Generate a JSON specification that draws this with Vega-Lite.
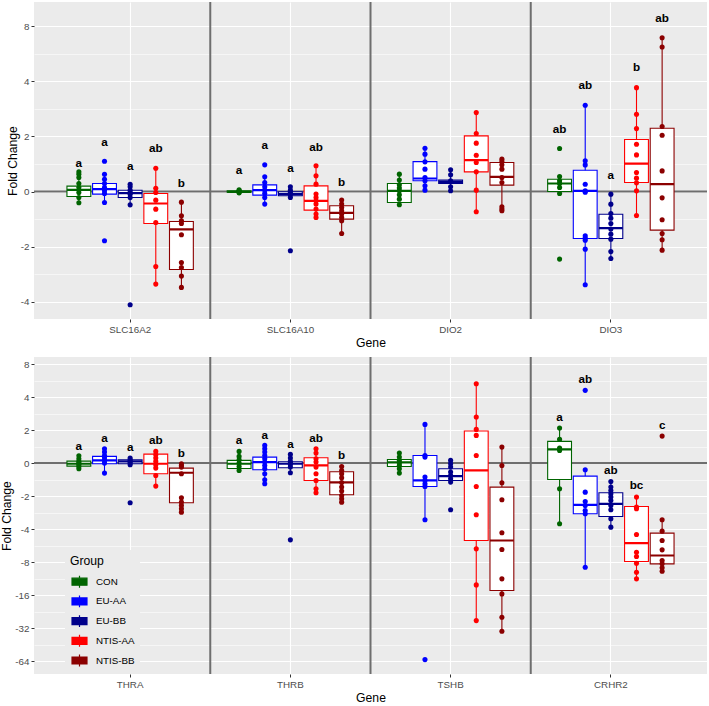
{
  "$schema": "https://vega.github.io/schema/vega-lite/v6.json",
  "padding": {"left": 0, "top": 1, "right": 0, "bottom": 0},
  "background": "white",
  "spacing": 7,
  "config": {
    "font": "Liberation Sans",
    "view": {"fill": "#EBEBEB", "stroke": null},
    "axisX": {
      "domain": false, "tickColor": "#333333", "tickSize": 3, "tickWidth": 1,
      "labelColor": "#4D4D4D", "labelFontSize": 9.8, "labelPadding": 2, "labelAngle": 0,
      "titleFontSize": 12.2, "titleFontWeight": "normal", "titleColor": "black", "titlePadding": 3,
      "grid": true, "gridColor": "white", "gridWidth": 1.1, "bandPosition": 0.5
    },
    "axisY": {
      "domain": false, "tickColor": "#333333", "tickSize": 3, "tickWidth": 1, "tickCount": 100,
      "labelColor": "#4D4D4D", "labelFontSize": 9.8, "labelPadding": 2, "labelOverlap": false,
      "titleFontSize": 12.2, "titleFontWeight": "normal", "titleColor": "black", "titlePadding": 1,
      "grid": true, "gridColor": "white",
      "gridWidth": {"condition": {"test": "datum.value % 1 !== 0", "value": 0.55}, "value": 1.1},
      "tickOpacity": {"condition": {"test": "datum.value % 1 !== 0", "value": 0}, "value": 1},
      "labelExpr": "datum.value % 1 !== 0 ? '' : datum.value === 0 ? '0' : datum.value > 0 ? format(pow(2, datum.value), 'd') : '-' + format(pow(2, -datum.value), 'd')"
    }
  },
  "datasets": {
    "boxes": [
      {"panel": "A", "gene": "SLC16A2", "group": "CON", "lo": -0.205, "q1": -0.091, "med": 0.030, "q3": 0.097, "hi": 0.356},
      {"panel": "A", "gene": "SLC16A2", "group": "EU-AA", "lo": -0.199, "q1": -0.048, "med": 0.042, "q3": 0.145, "hi": 0.314},
      {"panel": "A", "gene": "SLC16A2", "group": "EU-BB", "lo": -0.242, "q1": -0.109, "med": -0.030, "q3": 0.024, "hi": 0.133},
      {"panel": "A", "gene": "SLC16A2", "group": "NTIS-AA", "lo": -1.679, "q1": -0.580, "med": -0.217, "q3": -0.036, "hi": 0.423},
      {"panel": "A", "gene": "SLC16A2", "group": "NTIS-BB", "lo": -1.739, "q1": -1.413, "med": -0.688, "q3": -0.543, "hi": -0.193},
      {"panel": "A", "gene": "SLC16A10", "group": "CON", "lo": -0.024, "q1": -0.014, "med": -0.005, "q3": 0.013, "hi": 0.031},
      {"panel": "A", "gene": "SLC16A10", "group": "EU-AA", "lo": -0.228, "q1": -0.065, "med": 0.025, "q3": 0.121, "hi": 0.266},
      {"panel": "A", "gene": "SLC16A10", "group": "EU-BB", "lo": -0.109, "q1": -0.078, "med": -0.047, "q3": -0.005, "hi": 0.085},
      {"panel": "A", "gene": "SLC16A10", "group": "NTIS-AA", "lo": -0.471, "q1": -0.337, "med": -0.168, "q3": 0.103, "hi": 0.466},
      {"panel": "A", "gene": "SLC16A10", "group": "NTIS-BB", "lo": -0.761, "q1": -0.500, "med": -0.386, "q3": -0.259, "hi": -0.156},
      {"panel": "A", "gene": "DIO2", "group": "CON", "lo": -0.241, "q1": -0.199, "med": 0.013, "q3": 0.145, "hi": 0.315},
      {"panel": "A", "gene": "DIO2", "group": "EU-AA", "lo": 0.025, "q1": 0.194, "med": 0.236, "q3": 0.543, "hi": 0.786},
      {"panel": "A", "gene": "DIO2", "group": "EU-BB", "lo": 0.013, "q1": 0.145, "med": 0.176, "q3": 0.207, "hi": 0.393},
      {"panel": "A", "gene": "DIO2", "group": "NTIS-AA", "lo": -0.368, "q1": 0.357, "med": 0.569, "q3": 1.009, "hi": 1.431},
      {"panel": "A", "gene": "DIO2", "group": "NTIS-BB", "lo": -0.350, "q1": 0.116, "med": 0.266, "q3": 0.525, "hi": 0.587},
      {"panel": "A", "gene": "DIO3", "group": "CON", "lo": -0.036, "q1": 0.0, "med": 0.145, "q3": 0.223, "hi": 0.272},
      {"panel": "A", "gene": "DIO3", "group": "EU-AA", "lo": -1.691, "q1": -0.851, "med": 0.012, "q3": 0.386, "hi": 1.564},
      {"panel": "A", "gene": "DIO3", "group": "EU-BB", "lo": -1.214, "q1": -0.851, "med": -0.664, "q3": -0.411, "hi": -0.048},
      {"panel": "A", "gene": "DIO3", "group": "NTIS-AA", "lo": -0.435, "q1": 0.163, "med": 0.507, "q3": 0.942, "hi": 1.884},
      {"panel": "A", "gene": "DIO3", "group": "NTIS-BB", "lo": -1.063, "q1": -0.700, "med": 0.133, "q3": 1.147, "hi": 2.790},
      {"panel": "B", "gene": "THRA", "group": "CON", "lo": -0.172, "q1": -0.091, "med": -0.020, "q3": 0.061, "hi": 0.222},
      {"panel": "B", "gene": "THRA", "group": "EU-AA", "lo": -0.303, "q1": -0.020, "med": 0.081, "q3": 0.202, "hi": 0.434},
      {"panel": "B", "gene": "THRA", "group": "EU-BB", "lo": -0.051, "q1": -0.020, "med": 0.051, "q3": 0.101, "hi": 0.152},
      {"panel": "B", "gene": "THRA", "group": "NTIS-AA", "lo": -0.697, "q1": -0.323, "med": -0.020, "q3": 0.273, "hi": 0.354},
      {"panel": "B", "gene": "THRA", "group": "NTIS-BB", "lo": -1.485, "q1": -1.202, "med": -0.293, "q3": -0.152, "hi": -0.020},
      {"panel": "B", "gene": "THRB", "group": "CON", "lo": -0.222, "q1": -0.162, "med": -0.020, "q3": 0.081, "hi": 0.354},
      {"panel": "B", "gene": "THRB", "group": "EU-AA", "lo": -0.626, "q1": -0.202, "med": 0.030, "q3": 0.182, "hi": 0.535},
      {"panel": "B", "gene": "THRB", "group": "EU-BB", "lo": -0.293, "q1": -0.141, "med": -0.020, "q3": 0.040, "hi": 0.263},
      {"panel": "B", "gene": "THRB", "group": "NTIS-AA", "lo": -0.899, "q1": -0.525, "med": -0.071, "q3": 0.162, "hi": 0.434},
      {"panel": "B", "gene": "THRB", "group": "NTIS-BB", "lo": -1.182, "q1": -0.960, "med": -0.586, "q3": -0.263, "hi": -0.101},
      {"panel": "B", "gene": "TSHB", "group": "CON", "lo": -0.303, "q1": -0.101, "med": 0.020, "q3": 0.111, "hi": 0.303},
      {"panel": "B", "gene": "TSHB", "group": "EU-AA", "lo": -1.717, "q1": -0.707, "med": -0.525, "q3": 0.232, "hi": 1.172},
      {"panel": "B", "gene": "TSHB", "group": "EU-BB", "lo": -0.576, "q1": -0.525, "med": -0.394, "q3": -0.172, "hi": 0.081},
      {"panel": "B", "gene": "TSHB", "group": "NTIS-AA", "lo": -4.768, "q1": -2.343, "med": -0.222, "q3": 0.970, "hi": 2.404},
      {"panel": "B", "gene": "TSHB", "group": "NTIS-BB", "lo": -5.091, "q1": -3.859, "med": -2.343, "q3": -0.727, "hi": 0.485},
      {"panel": "B", "gene": "CRHR2", "group": "CON", "lo": -1.838, "q1": -0.495, "med": 0.414, "q3": 0.657, "hi": 1.061},
      {"panel": "B", "gene": "CRHR2", "group": "EU-AA", "lo": -3.152, "q1": -1.535, "med": -1.263, "q3": -0.394, "hi": -0.202},
      {"panel": "B", "gene": "CRHR2", "group": "EU-BB", "lo": -1.939, "q1": -1.616, "med": -1.232, "q3": -0.899, "hi": -0.556},
      {"panel": "B", "gene": "CRHR2", "group": "NTIS-AA", "lo": -3.505, "q1": -2.980, "med": -2.424, "q3": -1.313, "hi": -1.030},
      {"panel": "B", "gene": "CRHR2", "group": "NTIS-BB", "lo": -3.273, "q1": -3.051, "med": -2.798, "q3": -2.121, "hi": -1.717}
    ],
    "letters": [
      {"panel": "A", "gene": "SLC16A2", "group": "CON", "letter": "a", "at": 0.525},
      {"panel": "A", "gene": "SLC16A2", "group": "EU-AA", "letter": "a", "at": 0.906},
      {"panel": "A", "gene": "SLC16A2", "group": "EU-BB", "letter": "a", "at": 0.471},
      {"panel": "A", "gene": "SLC16A2", "group": "NTIS-AA", "letter": "ab", "at": 0.785},
      {"panel": "A", "gene": "SLC16A2", "group": "NTIS-BB", "letter": "b", "at": 0.163},
      {"panel": "A", "gene": "SLC16A10", "group": "CON", "letter": "a", "at": 0.388},
      {"panel": "A", "gene": "SLC16A10", "group": "EU-AA", "letter": "a", "at": 0.846},
      {"panel": "A", "gene": "SLC16A10", "group": "EU-BB", "letter": "a", "at": 0.424},
      {"panel": "A", "gene": "SLC16A10", "group": "NTIS-AA", "letter": "ab", "at": 0.815},
      {"panel": "A", "gene": "SLC16A10", "group": "NTIS-BB", "letter": "b", "at": 0.181},
      {"panel": "A", "gene": "DIO3", "group": "CON", "letter": "ab", "at": 1.141},
      {"panel": "A", "gene": "DIO3", "group": "EU-AA", "letter": "ab", "at": 1.926},
      {"panel": "A", "gene": "DIO3", "group": "EU-BB", "letter": "a", "at": 0.302},
      {"panel": "A", "gene": "DIO3", "group": "NTIS-AA", "letter": "b", "at": 2.258},
      {"panel": "A", "gene": "DIO3", "group": "NTIS-BB", "letter": "ab", "at": 3.152},
      {"panel": "B", "gene": "THRA", "group": "CON", "letter": "a", "at": 0.525},
      {"panel": "B", "gene": "THRA", "group": "EU-AA", "letter": "a", "at": 0.758},
      {"panel": "B", "gene": "THRA", "group": "EU-BB", "letter": "a", "at": 0.485},
      {"panel": "B", "gene": "THRA", "group": "NTIS-AA", "letter": "ab", "at": 0.707},
      {"panel": "B", "gene": "THRA", "group": "NTIS-BB", "letter": "b", "at": 0.303},
      {"panel": "B", "gene": "THRB", "group": "CON", "letter": "a", "at": 0.687},
      {"panel": "B", "gene": "THRB", "group": "EU-AA", "letter": "a", "at": 0.838},
      {"panel": "B", "gene": "THRB", "group": "EU-BB", "letter": "a", "at": 0.586},
      {"panel": "B", "gene": "THRB", "group": "NTIS-AA", "letter": "ab", "at": 0.758},
      {"panel": "B", "gene": "THRB", "group": "NTIS-BB", "letter": "b", "at": 0.232},
      {"panel": "B", "gene": "CRHR2", "group": "CON", "letter": "a", "at": 1.394},
      {"panel": "B", "gene": "CRHR2", "group": "EU-AA", "letter": "ab", "at": 2.556},
      {"panel": "B", "gene": "CRHR2", "group": "EU-BB", "letter": "ab", "at": -0.202},
      {"panel": "B", "gene": "CRHR2", "group": "NTIS-AA", "letter": "bc", "at": -0.677},
      {"panel": "B", "gene": "CRHR2", "group": "NTIS-BB", "letter": "c", "at": 1.162}
    ],
    "samples": [
      {"panel": "A", "gene": "SLC16A2", "group": "CON", "log2fc": 0.356},
      {"panel": "A", "gene": "SLC16A2", "group": "CON", "log2fc": 0.314},
      {"panel": "A", "gene": "SLC16A2", "group": "CON", "log2fc": 0.254},
      {"panel": "A", "gene": "SLC16A2", "group": "CON", "log2fc": 0.145},
      {"panel": "A", "gene": "SLC16A2", "group": "CON", "log2fc": 0.072},
      {"panel": "A", "gene": "SLC16A2", "group": "CON", "log2fc": -0.018},
      {"panel": "A", "gene": "SLC16A2", "group": "CON", "log2fc": -0.109},
      {"panel": "A", "gene": "SLC16A2", "group": "CON", "log2fc": -0.205},
      {"panel": "A", "gene": "SLC16A2", "group": "EU-AA", "log2fc": 0.55},
      {"panel": "A", "gene": "SLC16A2", "group": "EU-AA", "log2fc": 0.314},
      {"panel": "A", "gene": "SLC16A2", "group": "EU-AA", "log2fc": 0.223},
      {"panel": "A", "gene": "SLC16A2", "group": "EU-AA", "log2fc": 0.145},
      {"panel": "A", "gene": "SLC16A2", "group": "EU-AA", "log2fc": 0.072},
      {"panel": "A", "gene": "SLC16A2", "group": "EU-AA", "log2fc": 0.012},
      {"panel": "A", "gene": "SLC16A2", "group": "EU-AA", "log2fc": -0.036},
      {"panel": "A", "gene": "SLC16A2", "group": "EU-AA", "log2fc": -0.199},
      {"panel": "A", "gene": "SLC16A2", "group": "EU-AA", "log2fc": -0.894},
      {"panel": "A", "gene": "SLC16A2", "group": "EU-BB", "log2fc": 0.133},
      {"panel": "A", "gene": "SLC16A2", "group": "EU-BB", "log2fc": 0.085},
      {"panel": "A", "gene": "SLC16A2", "group": "EU-BB", "log2fc": 0.024},
      {"panel": "A", "gene": "SLC16A2", "group": "EU-BB", "log2fc": -0.018},
      {"panel": "A", "gene": "SLC16A2", "group": "EU-BB", "log2fc": -0.048},
      {"panel": "A", "gene": "SLC16A2", "group": "EU-BB", "log2fc": -0.109},
      {"panel": "A", "gene": "SLC16A2", "group": "EU-BB", "log2fc": -0.242},
      {"panel": "A", "gene": "SLC16A2", "group": "EU-BB", "log2fc": -2.053},
      {"panel": "A", "gene": "SLC16A2", "group": "NTIS-AA", "log2fc": 0.423},
      {"panel": "A", "gene": "SLC16A2", "group": "NTIS-AA", "log2fc": 0.06},
      {"panel": "A", "gene": "SLC16A2", "group": "NTIS-AA", "log2fc": -0.018},
      {"panel": "A", "gene": "SLC16A2", "group": "NTIS-AA", "log2fc": -0.157},
      {"panel": "A", "gene": "SLC16A2", "group": "NTIS-AA", "log2fc": -0.32},
      {"panel": "A", "gene": "SLC16A2", "group": "NTIS-AA", "log2fc": -0.562},
      {"panel": "A", "gene": "SLC16A2", "group": "NTIS-AA", "log2fc": -1.359},
      {"panel": "A", "gene": "SLC16A2", "group": "NTIS-AA", "log2fc": -1.679},
      {"panel": "A", "gene": "SLC16A2", "group": "NTIS-BB", "log2fc": -0.193},
      {"panel": "A", "gene": "SLC16A2", "group": "NTIS-BB", "log2fc": -0.441},
      {"panel": "A", "gene": "SLC16A2", "group": "NTIS-BB", "log2fc": -0.531},
      {"panel": "A", "gene": "SLC16A2", "group": "NTIS-BB", "log2fc": -0.58},
      {"panel": "A", "gene": "SLC16A2", "group": "NTIS-BB", "log2fc": -0.785},
      {"panel": "A", "gene": "SLC16A2", "group": "NTIS-BB", "log2fc": -1.286},
      {"panel": "A", "gene": "SLC16A2", "group": "NTIS-BB", "log2fc": -1.377},
      {"panel": "A", "gene": "SLC16A2", "group": "NTIS-BB", "log2fc": -1.534},
      {"panel": "A", "gene": "SLC16A2", "group": "NTIS-BB", "log2fc": -1.739},
      {"panel": "A", "gene": "SLC16A10", "group": "CON", "log2fc": 0.031},
      {"panel": "A", "gene": "SLC16A10", "group": "CON", "log2fc": 0.013},
      {"panel": "A", "gene": "SLC16A10", "group": "CON", "log2fc": 0.004},
      {"panel": "A", "gene": "SLC16A10", "group": "CON", "log2fc": -0.005},
      {"panel": "A", "gene": "SLC16A10", "group": "CON", "log2fc": -0.014},
      {"panel": "A", "gene": "SLC16A10", "group": "CON", "log2fc": -0.024},
      {"panel": "A", "gene": "SLC16A10", "group": "EU-AA", "log2fc": 0.484},
      {"panel": "A", "gene": "SLC16A10", "group": "EU-AA", "log2fc": 0.266},
      {"panel": "A", "gene": "SLC16A10", "group": "EU-AA", "log2fc": 0.163},
      {"panel": "A", "gene": "SLC16A10", "group": "EU-AA", "log2fc": 0.085},
      {"panel": "A", "gene": "SLC16A10", "group": "EU-AA", "log2fc": 0.025},
      {"panel": "A", "gene": "SLC16A10", "group": "EU-AA", "log2fc": -0.036},
      {"panel": "A", "gene": "SLC16A10", "group": "EU-AA", "log2fc": -0.109},
      {"panel": "A", "gene": "SLC16A10", "group": "EU-AA", "log2fc": -0.228},
      {"panel": "A", "gene": "SLC16A10", "group": "EU-BB", "log2fc": 0.085},
      {"panel": "A", "gene": "SLC16A10", "group": "EU-BB", "log2fc": 0.025},
      {"panel": "A", "gene": "SLC16A10", "group": "EU-BB", "log2fc": -0.018},
      {"panel": "A", "gene": "SLC16A10", "group": "EU-BB", "log2fc": -0.06},
      {"panel": "A", "gene": "SLC16A10", "group": "EU-BB", "log2fc": -0.109},
      {"panel": "A", "gene": "SLC16A10", "group": "EU-BB", "log2fc": -1.074},
      {"panel": "A", "gene": "SLC16A10", "group": "NTIS-AA", "log2fc": 0.466},
      {"panel": "A", "gene": "SLC16A10", "group": "NTIS-AA", "log2fc": 0.284},
      {"panel": "A", "gene": "SLC16A10", "group": "NTIS-AA", "log2fc": 0.134},
      {"panel": "A", "gene": "SLC16A10", "group": "NTIS-AA", "log2fc": -0.047},
      {"panel": "A", "gene": "SLC16A10", "group": "NTIS-AA", "log2fc": -0.109},
      {"panel": "A", "gene": "SLC16A10", "group": "NTIS-AA", "log2fc": -0.168},
      {"panel": "A", "gene": "SLC16A10", "group": "NTIS-AA", "log2fc": -0.228},
      {"panel": "A", "gene": "SLC16A10", "group": "NTIS-AA", "log2fc": -0.319},
      {"panel": "A", "gene": "SLC16A10", "group": "NTIS-AA", "log2fc": -0.409},
      {"panel": "A", "gene": "SLC16A10", "group": "NTIS-AA", "log2fc": -0.471},
      {"panel": "A", "gene": "SLC16A10", "group": "NTIS-BB", "log2fc": -0.156},
      {"panel": "A", "gene": "SLC16A10", "group": "NTIS-BB", "log2fc": -0.228},
      {"panel": "A", "gene": "SLC16A10", "group": "NTIS-BB", "log2fc": -0.29},
      {"panel": "A", "gene": "SLC16A10", "group": "NTIS-BB", "log2fc": -0.35},
      {"panel": "A", "gene": "SLC16A10", "group": "NTIS-BB", "log2fc": -0.409},
      {"panel": "A", "gene": "SLC16A10", "group": "NTIS-BB", "log2fc": -0.471},
      {"panel": "A", "gene": "SLC16A10", "group": "NTIS-BB", "log2fc": -0.531},
      {"panel": "A", "gene": "SLC16A10", "group": "NTIS-BB", "log2fc": -0.761},
      {"panel": "A", "gene": "DIO2", "group": "CON", "log2fc": 0.315},
      {"panel": "A", "gene": "DIO2", "group": "CON", "log2fc": 0.207},
      {"panel": "A", "gene": "DIO2", "group": "CON", "log2fc": 0.121},
      {"panel": "A", "gene": "DIO2", "group": "CON", "log2fc": 0.062},
      {"panel": "A", "gene": "DIO2", "group": "CON", "log2fc": 0.013},
      {"panel": "A", "gene": "DIO2", "group": "CON", "log2fc": -0.06},
      {"panel": "A", "gene": "DIO2", "group": "CON", "log2fc": -0.138},
      {"panel": "A", "gene": "DIO2", "group": "CON", "log2fc": -0.241},
      {"panel": "A", "gene": "DIO2", "group": "EU-AA", "log2fc": 0.786},
      {"panel": "A", "gene": "DIO2", "group": "EU-AA", "log2fc": 0.678},
      {"panel": "A", "gene": "DIO2", "group": "EU-AA", "log2fc": 0.538},
      {"panel": "A", "gene": "DIO2", "group": "EU-AA", "log2fc": 0.406},
      {"panel": "A", "gene": "DIO2", "group": "EU-AA", "log2fc": 0.254},
      {"panel": "A", "gene": "DIO2", "group": "EU-AA", "log2fc": 0.194},
      {"panel": "A", "gene": "DIO2", "group": "EU-AA", "log2fc": 0.103},
      {"panel": "A", "gene": "DIO2", "group": "EU-AA", "log2fc": 0.025},
      {"panel": "A", "gene": "DIO2", "group": "EU-BB", "log2fc": 0.393},
      {"panel": "A", "gene": "DIO2", "group": "EU-BB", "log2fc": 0.303},
      {"panel": "A", "gene": "DIO2", "group": "EU-BB", "log2fc": 0.194},
      {"panel": "A", "gene": "DIO2", "group": "EU-BB", "log2fc": 0.085},
      {"panel": "A", "gene": "DIO2", "group": "EU-BB", "log2fc": 0.013},
      {"panel": "A", "gene": "DIO2", "group": "NTIS-AA", "log2fc": 1.431},
      {"panel": "A", "gene": "DIO2", "group": "NTIS-AA", "log2fc": 1.051},
      {"panel": "A", "gene": "DIO2", "group": "NTIS-AA", "log2fc": 0.877},
      {"panel": "A", "gene": "DIO2", "group": "NTIS-AA", "log2fc": 0.659},
      {"panel": "A", "gene": "DIO2", "group": "NTIS-AA", "log2fc": 0.525},
      {"panel": "A", "gene": "DIO2", "group": "NTIS-AA", "log2fc": 0.357},
      {"panel": "A", "gene": "DIO2", "group": "NTIS-AA", "log2fc": 0.025},
      {"panel": "A", "gene": "DIO2", "group": "NTIS-AA", "log2fc": -0.368},
      {"panel": "A", "gene": "DIO2", "group": "NTIS-BB", "log2fc": 0.587},
      {"panel": "A", "gene": "DIO2", "group": "NTIS-BB", "log2fc": 0.543},
      {"panel": "A", "gene": "DIO2", "group": "NTIS-BB", "log2fc": 0.484},
      {"panel": "A", "gene": "DIO2", "group": "NTIS-BB", "log2fc": 0.406},
      {"panel": "A", "gene": "DIO2", "group": "NTIS-BB", "log2fc": 0.254},
      {"panel": "A", "gene": "DIO2", "group": "NTIS-BB", "log2fc": 0.163},
      {"panel": "A", "gene": "DIO2", "group": "NTIS-BB", "log2fc": -0.277},
      {"panel": "A", "gene": "DIO2", "group": "NTIS-BB", "log2fc": -0.319},
      {"panel": "A", "gene": "DIO2", "group": "NTIS-BB", "log2fc": -0.35},
      {"panel": "A", "gene": "DIO3", "group": "CON", "log2fc": 0.779},
      {"panel": "A", "gene": "DIO3", "group": "CON", "log2fc": 0.272},
      {"panel": "A", "gene": "DIO3", "group": "CON", "log2fc": 0.193},
      {"panel": "A", "gene": "DIO3", "group": "CON", "log2fc": 0.145},
      {"panel": "A", "gene": "DIO3", "group": "CON", "log2fc": 0.072},
      {"panel": "A", "gene": "DIO3", "group": "CON", "log2fc": -0.036},
      {"panel": "A", "gene": "DIO3", "group": "CON", "log2fc": -1.226},
      {"panel": "A", "gene": "DIO3", "group": "EU-AA", "log2fc": 1.564},
      {"panel": "A", "gene": "DIO3", "group": "EU-AA", "log2fc": 0.556},
      {"panel": "A", "gene": "DIO3", "group": "EU-AA", "log2fc": 0.483},
      {"panel": "A", "gene": "DIO3", "group": "EU-AA", "log2fc": 0.133},
      {"panel": "A", "gene": "DIO3", "group": "EU-AA", "log2fc": 0.012},
      {"panel": "A", "gene": "DIO3", "group": "EU-AA", "log2fc": -0.012},
      {"panel": "A", "gene": "DIO3", "group": "EU-AA", "log2fc": -0.803},
      {"panel": "A", "gene": "DIO3", "group": "EU-AA", "log2fc": -0.845},
      {"panel": "A", "gene": "DIO3", "group": "EU-AA", "log2fc": -0.882},
      {"panel": "A", "gene": "DIO3", "group": "EU-AA", "log2fc": -1.045},
      {"panel": "A", "gene": "DIO3", "group": "EU-AA", "log2fc": -1.691},
      {"panel": "A", "gene": "DIO3", "group": "EU-BB", "log2fc": -0.048},
      {"panel": "A", "gene": "DIO3", "group": "EU-BB", "log2fc": -0.229},
      {"panel": "A", "gene": "DIO3", "group": "EU-BB", "log2fc": -0.399},
      {"panel": "A", "gene": "DIO3", "group": "EU-BB", "log2fc": -0.483},
      {"panel": "A", "gene": "DIO3", "group": "EU-BB", "log2fc": -0.58},
      {"panel": "A", "gene": "DIO3", "group": "EU-BB", "log2fc": -0.682},
      {"panel": "A", "gene": "DIO3", "group": "EU-BB", "log2fc": -0.773},
      {"panel": "A", "gene": "DIO3", "group": "EU-BB", "log2fc": -0.864},
      {"panel": "A", "gene": "DIO3", "group": "EU-BB", "log2fc": -1.087},
      {"panel": "A", "gene": "DIO3", "group": "EU-BB", "log2fc": -1.214},
      {"panel": "A", "gene": "DIO3", "group": "NTIS-AA", "log2fc": 1.884},
      {"panel": "A", "gene": "DIO3", "group": "NTIS-AA", "log2fc": 1.401},
      {"panel": "A", "gene": "DIO3", "group": "NTIS-AA", "log2fc": 1.141},
      {"panel": "A", "gene": "DIO3", "group": "NTIS-AA", "log2fc": 0.857},
      {"panel": "A", "gene": "DIO3", "group": "NTIS-AA", "log2fc": 0.664},
      {"panel": "A", "gene": "DIO3", "group": "NTIS-AA", "log2fc": 0.344},
      {"panel": "A", "gene": "DIO3", "group": "NTIS-AA", "log2fc": 0.242},
      {"panel": "A", "gene": "DIO3", "group": "NTIS-AA", "log2fc": 0.157},
      {"panel": "A", "gene": "DIO3", "group": "NTIS-AA", "log2fc": 0.012},
      {"panel": "A", "gene": "DIO3", "group": "NTIS-AA", "log2fc": -0.435},
      {"panel": "A", "gene": "DIO3", "group": "NTIS-BB", "log2fc": 2.79},
      {"panel": "A", "gene": "DIO3", "group": "NTIS-BB", "log2fc": 2.621},
      {"panel": "A", "gene": "DIO3", "group": "NTIS-BB", "log2fc": 1.178},
      {"panel": "A", "gene": "DIO3", "group": "NTIS-BB", "log2fc": 1.021},
      {"panel": "A", "gene": "DIO3", "group": "NTIS-BB", "log2fc": 0.374},
      {"panel": "A", "gene": "DIO3", "group": "NTIS-BB", "log2fc": -0.115},
      {"panel": "A", "gene": "DIO3", "group": "NTIS-BB", "log2fc": -0.513},
      {"panel": "A", "gene": "DIO3", "group": "NTIS-BB", "log2fc": -0.761},
      {"panel": "A", "gene": "DIO3", "group": "NTIS-BB", "log2fc": -0.876},
      {"panel": "A", "gene": "DIO3", "group": "NTIS-BB", "log2fc": -1.063},
      {"panel": "B", "gene": "THRA", "group": "CON", "log2fc": 0.222},
      {"panel": "B", "gene": "THRA", "group": "CON", "log2fc": 0.131},
      {"panel": "B", "gene": "THRA", "group": "CON", "log2fc": 0.051},
      {"panel": "B", "gene": "THRA", "group": "CON", "log2fc": 0.0},
      {"panel": "B", "gene": "THRA", "group": "CON", "log2fc": -0.04},
      {"panel": "B", "gene": "THRA", "group": "CON", "log2fc": -0.101},
      {"panel": "B", "gene": "THRA", "group": "CON", "log2fc": -0.172},
      {"panel": "B", "gene": "THRA", "group": "EU-AA", "log2fc": 0.434},
      {"panel": "B", "gene": "THRA", "group": "EU-AA", "log2fc": 0.333},
      {"panel": "B", "gene": "THRA", "group": "EU-AA", "log2fc": 0.232},
      {"panel": "B", "gene": "THRA", "group": "EU-AA", "log2fc": 0.162},
      {"panel": "B", "gene": "THRA", "group": "EU-AA", "log2fc": 0.081},
      {"panel": "B", "gene": "THRA", "group": "EU-AA", "log2fc": 0.0},
      {"panel": "B", "gene": "THRA", "group": "EU-AA", "log2fc": -0.303},
      {"panel": "B", "gene": "THRA", "group": "EU-BB", "log2fc": 0.152},
      {"panel": "B", "gene": "THRA", "group": "EU-BB", "log2fc": 0.101},
      {"panel": "B", "gene": "THRA", "group": "EU-BB", "log2fc": 0.051},
      {"panel": "B", "gene": "THRA", "group": "EU-BB", "log2fc": 0.0},
      {"panel": "B", "gene": "THRA", "group": "EU-BB", "log2fc": -0.051},
      {"panel": "B", "gene": "THRA", "group": "EU-BB", "log2fc": -1.202},
      {"panel": "B", "gene": "THRA", "group": "NTIS-AA", "log2fc": 0.354},
      {"panel": "B", "gene": "THRA", "group": "NTIS-AA", "log2fc": 0.253},
      {"panel": "B", "gene": "THRA", "group": "NTIS-AA", "log2fc": 0.152},
      {"panel": "B", "gene": "THRA", "group": "NTIS-AA", "log2fc": 0.051},
      {"panel": "B", "gene": "THRA", "group": "NTIS-AA", "log2fc": -0.051},
      {"panel": "B", "gene": "THRA", "group": "NTIS-AA", "log2fc": -0.152},
      {"panel": "B", "gene": "THRA", "group": "NTIS-AA", "log2fc": -0.374},
      {"panel": "B", "gene": "THRA", "group": "NTIS-AA", "log2fc": -0.697},
      {"panel": "B", "gene": "THRA", "group": "NTIS-BB", "log2fc": -0.02},
      {"panel": "B", "gene": "THRA", "group": "NTIS-BB", "log2fc": -0.071},
      {"panel": "B", "gene": "THRA", "group": "NTIS-BB", "log2fc": -0.121},
      {"panel": "B", "gene": "THRA", "group": "NTIS-BB", "log2fc": -0.323},
      {"panel": "B", "gene": "THRA", "group": "NTIS-BB", "log2fc": -1.051},
      {"panel": "B", "gene": "THRA", "group": "NTIS-BB", "log2fc": -1.182},
      {"panel": "B", "gene": "THRA", "group": "NTIS-BB", "log2fc": -1.283},
      {"panel": "B", "gene": "THRA", "group": "NTIS-BB", "log2fc": -1.384},
      {"panel": "B", "gene": "THRA", "group": "NTIS-BB", "log2fc": -1.485},
      {"panel": "B", "gene": "THRB", "group": "CON", "log2fc": 0.354},
      {"panel": "B", "gene": "THRB", "group": "CON", "log2fc": 0.202},
      {"panel": "B", "gene": "THRB", "group": "CON", "log2fc": 0.101},
      {"panel": "B", "gene": "THRB", "group": "CON", "log2fc": 0.0},
      {"panel": "B", "gene": "THRB", "group": "CON", "log2fc": -0.101},
      {"panel": "B", "gene": "THRB", "group": "CON", "log2fc": -0.222},
      {"panel": "B", "gene": "THRB", "group": "EU-AA", "log2fc": 0.535},
      {"panel": "B", "gene": "THRB", "group": "EU-AA", "log2fc": 0.434},
      {"panel": "B", "gene": "THRB", "group": "EU-AA", "log2fc": 0.333},
      {"panel": "B", "gene": "THRB", "group": "EU-AA", "log2fc": 0.232},
      {"panel": "B", "gene": "THRB", "group": "EU-AA", "log2fc": 0.131},
      {"panel": "B", "gene": "THRB", "group": "EU-AA", "log2fc": 0.03},
      {"panel": "B", "gene": "THRB", "group": "EU-AA", "log2fc": -0.071},
      {"panel": "B", "gene": "THRB", "group": "EU-AA", "log2fc": -0.172},
      {"panel": "B", "gene": "THRB", "group": "EU-AA", "log2fc": -0.323},
      {"panel": "B", "gene": "THRB", "group": "EU-AA", "log2fc": -0.505},
      {"panel": "B", "gene": "THRB", "group": "EU-AA", "log2fc": -0.626},
      {"panel": "B", "gene": "THRB", "group": "EU-BB", "log2fc": 0.263},
      {"panel": "B", "gene": "THRB", "group": "EU-BB", "log2fc": 0.152},
      {"panel": "B", "gene": "THRB", "group": "EU-BB", "log2fc": 0.051},
      {"panel": "B", "gene": "THRB", "group": "EU-BB", "log2fc": 0.0},
      {"panel": "B", "gene": "THRB", "group": "EU-BB", "log2fc": -0.04},
      {"panel": "B", "gene": "THRB", "group": "EU-BB", "log2fc": -0.121},
      {"panel": "B", "gene": "THRB", "group": "EU-BB", "log2fc": -0.293},
      {"panel": "B", "gene": "THRB", "group": "EU-BB", "log2fc": -2.323},
      {"panel": "B", "gene": "THRB", "group": "NTIS-AA", "log2fc": 0.434},
      {"panel": "B", "gene": "THRB", "group": "NTIS-AA", "log2fc": 0.303},
      {"panel": "B", "gene": "THRB", "group": "NTIS-AA", "log2fc": 0.131},
      {"panel": "B", "gene": "THRB", "group": "NTIS-AA", "log2fc": 0.03},
      {"panel": "B", "gene": "THRB", "group": "NTIS-AA", "log2fc": -0.121},
      {"panel": "B", "gene": "THRB", "group": "NTIS-AA", "log2fc": -0.323},
      {"panel": "B", "gene": "THRB", "group": "NTIS-AA", "log2fc": -0.525},
      {"panel": "B", "gene": "THRB", "group": "NTIS-AA", "log2fc": -0.778},
      {"panel": "B", "gene": "THRB", "group": "NTIS-AA", "log2fc": -0.899},
      {"panel": "B", "gene": "THRB", "group": "NTIS-BB", "log2fc": -0.101},
      {"panel": "B", "gene": "THRB", "group": "NTIS-BB", "log2fc": -0.222},
      {"panel": "B", "gene": "THRB", "group": "NTIS-BB", "log2fc": -0.323},
      {"panel": "B", "gene": "THRB", "group": "NTIS-BB", "log2fc": -0.444},
      {"panel": "B", "gene": "THRB", "group": "NTIS-BB", "log2fc": -0.586},
      {"panel": "B", "gene": "THRB", "group": "NTIS-BB", "log2fc": -0.727},
      {"panel": "B", "gene": "THRB", "group": "NTIS-BB", "log2fc": -0.848},
      {"panel": "B", "gene": "THRB", "group": "NTIS-BB", "log2fc": -0.98},
      {"panel": "B", "gene": "THRB", "group": "NTIS-BB", "log2fc": -1.081},
      {"panel": "B", "gene": "THRB", "group": "NTIS-BB", "log2fc": -1.182},
      {"panel": "B", "gene": "TSHB", "group": "CON", "log2fc": 0.303},
      {"panel": "B", "gene": "TSHB", "group": "CON", "log2fc": 0.182},
      {"panel": "B", "gene": "TSHB", "group": "CON", "log2fc": 0.081},
      {"panel": "B", "gene": "TSHB", "group": "CON", "log2fc": 0.0},
      {"panel": "B", "gene": "TSHB", "group": "CON", "log2fc": -0.071},
      {"panel": "B", "gene": "TSHB", "group": "CON", "log2fc": -0.172},
      {"panel": "B", "gene": "TSHB", "group": "CON", "log2fc": -0.303},
      {"panel": "B", "gene": "TSHB", "group": "EU-AA", "log2fc": 1.172},
      {"panel": "B", "gene": "TSHB", "group": "EU-AA", "log2fc": 0.232},
      {"panel": "B", "gene": "TSHB", "group": "EU-AA", "log2fc": 0.182},
      {"panel": "B", "gene": "TSHB", "group": "EU-AA", "log2fc": -0.424},
      {"panel": "B", "gene": "TSHB", "group": "EU-AA", "log2fc": -0.525},
      {"panel": "B", "gene": "TSHB", "group": "EU-AA", "log2fc": -0.626},
      {"panel": "B", "gene": "TSHB", "group": "EU-AA", "log2fc": -0.707},
      {"panel": "B", "gene": "TSHB", "group": "EU-AA", "log2fc": -1.717},
      {"panel": "B", "gene": "TSHB", "group": "EU-AA", "log2fc": -5.949},
      {"panel": "B", "gene": "TSHB", "group": "EU-BB", "log2fc": 0.081},
      {"panel": "B", "gene": "TSHB", "group": "EU-BB", "log2fc": -0.02},
      {"panel": "B", "gene": "TSHB", "group": "EU-BB", "log2fc": -0.121},
      {"panel": "B", "gene": "TSHB", "group": "EU-BB", "log2fc": -0.273},
      {"panel": "B", "gene": "TSHB", "group": "EU-BB", "log2fc": -0.374},
      {"panel": "B", "gene": "TSHB", "group": "EU-BB", "log2fc": -0.475},
      {"panel": "B", "gene": "TSHB", "group": "EU-BB", "log2fc": -0.576},
      {"panel": "B", "gene": "TSHB", "group": "EU-BB", "log2fc": -1.414},
      {"panel": "B", "gene": "TSHB", "group": "NTIS-AA", "log2fc": 2.404},
      {"panel": "B", "gene": "TSHB", "group": "NTIS-AA", "log2fc": 1.394},
      {"panel": "B", "gene": "TSHB", "group": "NTIS-AA", "log2fc": 1.02},
      {"panel": "B", "gene": "TSHB", "group": "NTIS-AA", "log2fc": 0.838},
      {"panel": "B", "gene": "TSHB", "group": "NTIS-AA", "log2fc": 0.232},
      {"panel": "B", "gene": "TSHB", "group": "NTIS-AA", "log2fc": -0.707},
      {"panel": "B", "gene": "TSHB", "group": "NTIS-AA", "log2fc": -1.566},
      {"panel": "B", "gene": "TSHB", "group": "NTIS-AA", "log2fc": -2.596},
      {"panel": "B", "gene": "TSHB", "group": "NTIS-AA", "log2fc": -3.687},
      {"panel": "B", "gene": "TSHB", "group": "NTIS-AA", "log2fc": -4.768},
      {"panel": "B", "gene": "TSHB", "group": "NTIS-BB", "log2fc": 0.485},
      {"panel": "B", "gene": "TSHB", "group": "NTIS-BB", "log2fc": -0.071},
      {"panel": "B", "gene": "TSHB", "group": "NTIS-BB", "log2fc": -0.596},
      {"panel": "B", "gene": "TSHB", "group": "NTIS-BB", "log2fc": -1.111},
      {"panel": "B", "gene": "TSHB", "group": "NTIS-BB", "log2fc": -2.111},
      {"panel": "B", "gene": "TSHB", "group": "NTIS-BB", "log2fc": -2.616},
      {"panel": "B", "gene": "TSHB", "group": "NTIS-BB", "log2fc": -3.505},
      {"panel": "B", "gene": "TSHB", "group": "NTIS-BB", "log2fc": -3.96},
      {"panel": "B", "gene": "TSHB", "group": "NTIS-BB", "log2fc": -4.667},
      {"panel": "B", "gene": "TSHB", "group": "NTIS-BB", "log2fc": -5.091},
      {"panel": "B", "gene": "CRHR2", "group": "CON", "log2fc": 1.061},
      {"panel": "B", "gene": "CRHR2", "group": "CON", "log2fc": 0.717},
      {"panel": "B", "gene": "CRHR2", "group": "CON", "log2fc": 0.455},
      {"panel": "B", "gene": "CRHR2", "group": "CON", "log2fc": 0.384},
      {"panel": "B", "gene": "CRHR2", "group": "CON", "log2fc": -0.778},
      {"panel": "B", "gene": "CRHR2", "group": "CON", "log2fc": -1.838},
      {"panel": "B", "gene": "CRHR2", "group": "EU-AA", "log2fc": 2.202},
      {"panel": "B", "gene": "CRHR2", "group": "EU-AA", "log2fc": -0.202},
      {"panel": "B", "gene": "CRHR2", "group": "EU-AA", "log2fc": -0.879},
      {"panel": "B", "gene": "CRHR2", "group": "EU-AA", "log2fc": -1.162},
      {"panel": "B", "gene": "CRHR2", "group": "EU-AA", "log2fc": -1.283},
      {"panel": "B", "gene": "CRHR2", "group": "EU-AA", "log2fc": -1.434},
      {"panel": "B", "gene": "CRHR2", "group": "EU-AA", "log2fc": -1.535},
      {"panel": "B", "gene": "CRHR2", "group": "EU-AA", "log2fc": -3.152},
      {"panel": "B", "gene": "CRHR2", "group": "EU-BB", "log2fc": -0.556},
      {"panel": "B", "gene": "CRHR2", "group": "EU-BB", "log2fc": -0.727},
      {"panel": "B", "gene": "CRHR2", "group": "EU-BB", "log2fc": -0.828},
      {"panel": "B", "gene": "CRHR2", "group": "EU-BB", "log2fc": -0.929},
      {"panel": "B", "gene": "CRHR2", "group": "EU-BB", "log2fc": -1.03},
      {"panel": "B", "gene": "CRHR2", "group": "EU-BB", "log2fc": -1.131},
      {"panel": "B", "gene": "CRHR2", "group": "EU-BB", "log2fc": -1.283},
      {"panel": "B", "gene": "CRHR2", "group": "EU-BB", "log2fc": -1.414},
      {"panel": "B", "gene": "CRHR2", "group": "EU-BB", "log2fc": -1.687},
      {"panel": "B", "gene": "CRHR2", "group": "EU-BB", "log2fc": -1.939},
      {"panel": "B", "gene": "CRHR2", "group": "NTIS-AA", "log2fc": -1.03},
      {"panel": "B", "gene": "CRHR2", "group": "NTIS-AA", "log2fc": -1.333},
      {"panel": "B", "gene": "CRHR2", "group": "NTIS-AA", "log2fc": -1.384},
      {"panel": "B", "gene": "CRHR2", "group": "NTIS-AA", "log2fc": -2.162},
      {"panel": "B", "gene": "CRHR2", "group": "NTIS-AA", "log2fc": -2.697},
      {"panel": "B", "gene": "CRHR2", "group": "NTIS-AA", "log2fc": -2.828},
      {"panel": "B", "gene": "CRHR2", "group": "NTIS-AA", "log2fc": -3.03},
      {"panel": "B", "gene": "CRHR2", "group": "NTIS-AA", "log2fc": -3.303},
      {"panel": "B", "gene": "CRHR2", "group": "NTIS-AA", "log2fc": -3.505},
      {"panel": "B", "gene": "CRHR2", "group": "NTIS-BB", "log2fc": 0.818},
      {"panel": "B", "gene": "CRHR2", "group": "NTIS-BB", "log2fc": -1.717},
      {"panel": "B", "gene": "CRHR2", "group": "NTIS-BB", "log2fc": -2.061},
      {"panel": "B", "gene": "CRHR2", "group": "NTIS-BB", "log2fc": -2.343},
      {"panel": "B", "gene": "CRHR2", "group": "NTIS-BB", "log2fc": -2.626},
      {"panel": "B", "gene": "CRHR2", "group": "NTIS-BB", "log2fc": -2.949},
      {"panel": "B", "gene": "CRHR2", "group": "NTIS-BB", "log2fc": -3.051},
      {"panel": "B", "gene": "CRHR2", "group": "NTIS-BB", "log2fc": -3.172},
      {"panel": "B", "gene": "CRHR2", "group": "NTIS-BB", "log2fc": -3.273}
    ]
  },
  "vconcat": [
    {
      "width": 673,
      "height": 317,
      "layer": [
        {
          "data": {"name": "boxes"},
          "transform": [{"filter": "datum.panel === 'A' && datum.group === 'CON' && datum.gene !== 'SLC16A2'"}],
          "mark": {"type": "rule", "color": "#6E6E6E", "strokeWidth": 2},
          "encoding": {
            "x": {"field": "gene", "type": "nominal", "bandPosition": 0, "scale": {"domain": ["SLC16A2", "SLC16A10", "DIO2", "DIO3"], "paddingInner": 0, "paddingOuter": 0.1}, "title": "Gene"}
          }
        },
        {
          "data": {"name": "boxes"},
          "transform": [{"filter": "datum.panel === 'A' && datum.group === 'CON' && datum.gene === 'SLC16A2'"}],
          "mark": {"type": "rule", "color": "#6E6E6E", "strokeWidth": 2},
          "encoding": {"y": {"datum": 0}}
        },
        {
          "data": {"name": "boxes"},
          "transform": [{"filter": "datum.panel === 'A'"}],
          "mark": {"type": "rule", "strokeWidth": 1.1},
          "encoding": {
            "x": {"field": "gene", "type": "nominal", "title": "Gene"},
            "xOffset": {"field": "group", "type": "nominal", "scale": {"domain": ["CON", "EU-AA", "EU-BB", "NTIS-AA", "NTIS-BB"], "paddingInner": 0.07, "paddingOuter": 0.66}},
            "y": {"field": "lo", "type": "quantitative", "scale": {"domain": [-2.312, 3.437], "nice": false, "zero": false}, "axis": {"values": [-2, -1.5, -1, -0.5, 0, 0.5, 1, 1.5, 2, 2.5, 3], "tickCount": 100, "labelOverlap": false}, "title": "Fold Change"},
            "y2": {"field": "hi"},
            "stroke": {"field": "group", "type": "nominal", "scale": {"domain": ["CON", "EU-AA", "EU-BB", "NTIS-AA", "NTIS-BB"], "range": ["#006400", "#0000FF", "#00008B", "#FF0000", "#8B0000"]}, "legend": null}
          }
        },
        {
          "data": {"name": "boxes"},
          "transform": [{"filter": "datum.panel === 'A'"}],
          "mark": {"type": "bar", "fill": "white", "strokeWidth": 1.1},
          "encoding": {
            "x": {"field": "gene", "type": "nominal", "title": "Gene"},
            "xOffset": {"field": "group", "type": "nominal"},
            "y": {"field": "q1", "type": "quantitative"},
            "y2": {"field": "q3"},
            "stroke": {"field": "group", "type": "nominal", "legend": null}
          }
        },
        {
          "data": {"name": "boxes"},
          "transform": [{"filter": "datum.panel === 'A'"}],
          "mark": {"type": "bar", "fill": null, "strokeWidth": 2.2},
          "encoding": {
            "x": {"field": "gene", "type": "nominal", "title": "Gene"},
            "xOffset": {"field": "group", "type": "nominal"},
            "y": {"field": "med", "type": "quantitative"},
            "y2": {"field": "med"},
            "stroke": {"field": "group", "type": "nominal", "legend": null}
          }
        },
        {
          "data": {"name": "samples"},
          "transform": [{"filter": "datum.panel === 'A'"}],
          "mark": {"type": "circle", "size": 26, "opacity": 1},
          "encoding": {
            "x": {"field": "gene", "type": "nominal", "title": "Gene"},
            "xOffset": {"field": "group", "type": "nominal"},
            "y": {"field": "log2fc", "type": "quantitative"},
            "fill": {"field": "group", "type": "nominal", "scale": {"domain": ["CON", "EU-AA", "EU-BB", "NTIS-AA", "NTIS-BB"], "range": ["#006400", "#0000FF", "#00008B", "#FF0000", "#8B0000"]}, "legend": null}
          }
        },
        {
          "data": {"name": "letters"},
          "transform": [{"filter": "datum.panel === 'A'"}],
          "mark": {"type": "text", "fontWeight": "bold", "fontSize": 11.7, "color": "black", "baseline": "middle"},
          "encoding": {
            "x": {"field": "gene", "type": "nominal", "title": "Gene"},
            "xOffset": {"field": "group", "type": "nominal"},
            "y": {"field": "at", "type": "quantitative"},
            "text": {"field": "letter"}
          }
        }
      ]
    },
    {
      "width": 673,
      "height": 317,
      "layer": [
        {
          "data": {"name": "boxes"},
          "transform": [{"filter": "datum.panel === 'B' && datum.group === 'CON' && datum.gene !== 'THRA'"}],
          "mark": {"type": "rule", "color": "#6E6E6E", "strokeWidth": 2},
          "encoding": {
            "x": {"field": "gene", "type": "nominal", "bandPosition": 0, "scale": {"domain": ["THRA", "THRB", "TSHB", "CRHR2"], "paddingInner": 0, "paddingOuter": 0.1}, "title": "Gene"}
          }
        },
        {
          "data": {"name": "boxes"},
          "transform": [{"filter": "datum.panel === 'B' && datum.group === 'CON' && datum.gene === 'THRA'"}],
          "mark": {"type": "rule", "color": "#6E6E6E", "strokeWidth": 2},
          "encoding": {"y": {"datum": 0}}
        },
        {
          "data": {"name": "boxes"},
          "transform": [{"filter": "datum.panel === 'B'"}],
          "mark": {"type": "rule", "strokeWidth": 1.1},
          "encoding": {
            "x": {"field": "gene", "type": "nominal", "title": "Gene"},
            "xOffset": {"field": "group", "type": "nominal", "scale": {"domain": ["CON", "EU-AA", "EU-BB", "NTIS-AA", "NTIS-BB"], "paddingInner": 0.07, "paddingOuter": 0.66}},
            "y": {"field": "lo", "type": "quantitative", "scale": {"domain": [-6.385, 3.212], "nice": false, "zero": false}, "axis": {"values": [-6, -5.5, -5, -4.5, -4, -3.5, -3, -2.5, -2, -1.5, -1, -0.5, 0, 0.5, 1, 1.5, 2, 2.5, 3], "tickCount": 100, "labelOverlap": false}, "title": "Fold Change"},
            "y2": {"field": "hi"},
            "stroke": {
              "field": "group", "type": "nominal",
              "scale": {"domain": ["CON", "EU-AA", "EU-BB", "NTIS-AA", "NTIS-BB"], "range": ["#006400", "#0000FF", "#00008B", "#FF0000", "#8B0000"]},
              "legend": {
                "title": "Group", "orient": "none", "legendX": 31, "legendY": 193,
                "fillColor": "#EBEBEB", "padding": 5,
                "titleFontSize": 12.2, "titleFontWeight": "normal", "titleColor": "black", "titlePadding": 5,
                "labelFontSize": 9.8, "labelColor": "black", "labelOffset": 7,
                "symbolSize": 289, "symbolStrokeWidth": 1.2, "rowPadding": 1.7, "symbolFillColor": "white",
                "symbolType": "M-0.88,-0.41H0.88V0.41H-0.88Z M-0.88,0H0.88 M0,-0.41V-0.7 M0,0.41V0.7 M0.22,0A0.22,0.22 0 1 1 -0.22,0A0.22,0.22 0 1 1 0.22,0Z M0.12,0A0.12,0.12 0 1 1 -0.12,0A0.12,0.12 0 1 1 0.12,0Z M0.03,0A0.03,0.03 0 1 1 -0.03,0A0.03,0.03 0 1 1 0.03,0Z",
                "encode": {"symbols": {"update": {"fill": {"value": "white"}, "strokeWidth": {"value": 1.2}, "opacity": {"value": 1}}}}
              }
            }
          }
        },
        {
          "data": {"name": "boxes"},
          "transform": [{"filter": "datum.panel === 'B'"}],
          "mark": {"type": "bar", "fill": "white", "strokeWidth": 1.1},
          "encoding": {
            "x": {"field": "gene", "type": "nominal", "title": "Gene"},
            "xOffset": {"field": "group", "type": "nominal"},
            "y": {"field": "q1", "type": "quantitative"},
            "y2": {"field": "q3"},
            "stroke": {"field": "group", "type": "nominal"}
          }
        },
        {
          "data": {"name": "boxes"},
          "transform": [{"filter": "datum.panel === 'B'"}],
          "mark": {"type": "bar", "fill": null, "strokeWidth": 2.2},
          "encoding": {
            "x": {"field": "gene", "type": "nominal", "title": "Gene"},
            "xOffset": {"field": "group", "type": "nominal"},
            "y": {"field": "med", "type": "quantitative"},
            "y2": {"field": "med"},
            "stroke": {"field": "group", "type": "nominal"}
          }
        },
        {
          "data": {"name": "samples"},
          "transform": [{"filter": "datum.panel === 'B'"}],
          "mark": {"type": "circle", "size": 26, "opacity": 1},
          "encoding": {
            "x": {"field": "gene", "type": "nominal", "title": "Gene"},
            "xOffset": {"field": "group", "type": "nominal"},
            "y": {"field": "log2fc", "type": "quantitative"},
            "fill": {"field": "group", "type": "nominal", "scale": {"domain": ["CON", "EU-AA", "EU-BB", "NTIS-AA", "NTIS-BB"], "range": ["#006400", "#0000FF", "#00008B", "#FF0000", "#8B0000"]}, "legend": null}
          }
        },
        {
          "data": {"name": "letters"},
          "transform": [{"filter": "datum.panel === 'B'"}],
          "mark": {"type": "text", "fontWeight": "bold", "fontSize": 11.7, "color": "black", "baseline": "middle"},
          "encoding": {
            "x": {"field": "gene", "type": "nominal", "title": "Gene"},
            "xOffset": {"field": "group", "type": "nominal"},
            "y": {"field": "at", "type": "quantitative"},
            "text": {"field": "letter"}
          }
        }
      ]
    }
  ],
  "resolve": {"scale": {"x": "independent", "y": "independent"}, "legend": {"stroke": "independent", "fill": "independent"}}
}
